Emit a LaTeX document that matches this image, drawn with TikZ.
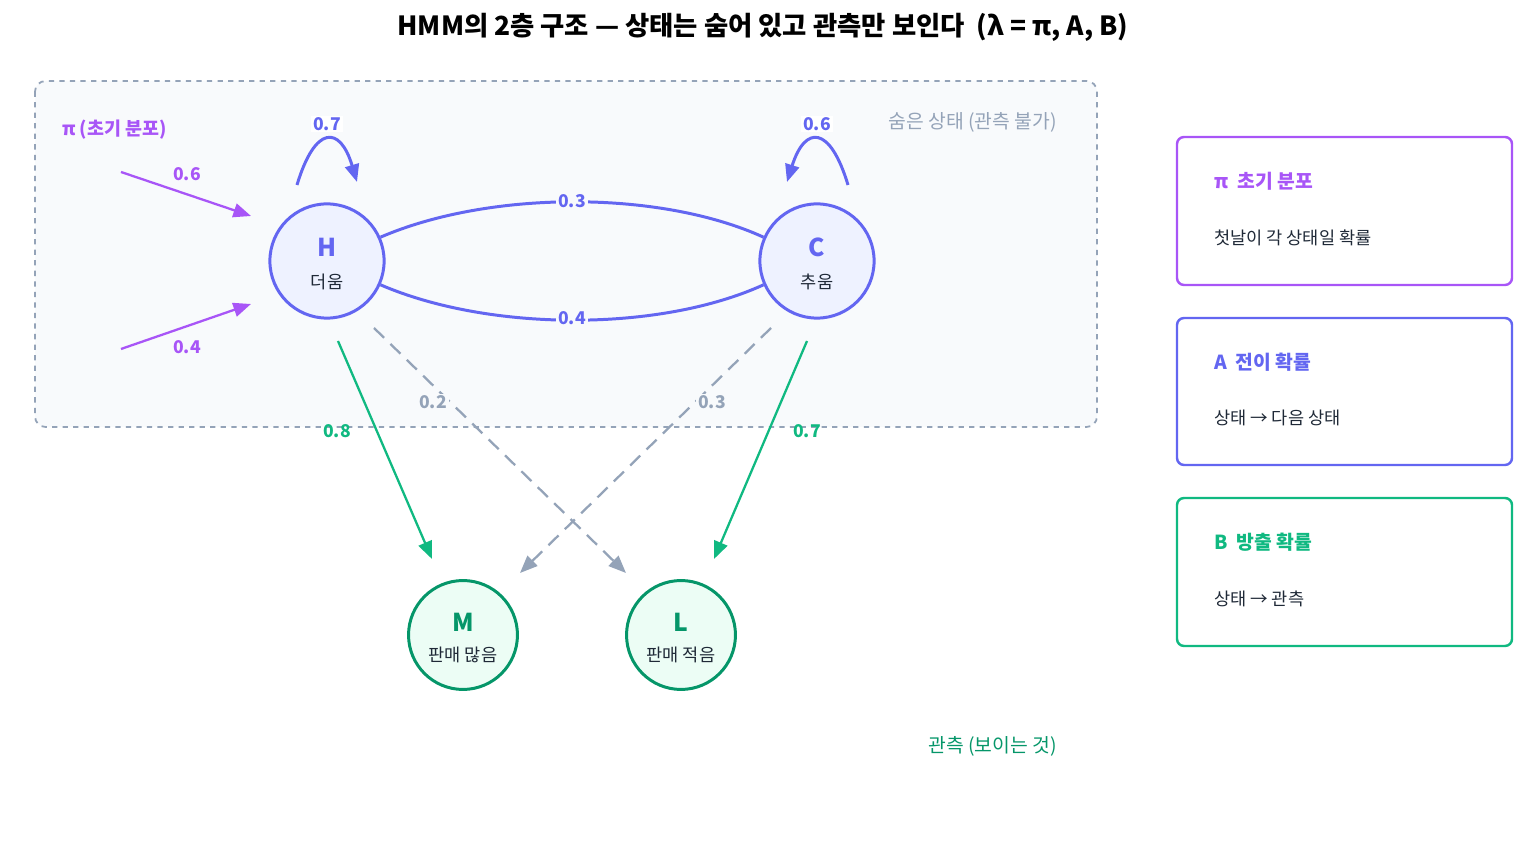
\documentclass[tikz,border=0pt]{standalone}
\usepackage{fontspec}
\setmainfont{Noto Sans CJK KR}
\usetikzlibrary{arrows.meta,positioning}
\definecolor{hidbd}{HTML}{94A3B8}
\definecolor{hidbg}{HTML}{F8FAFC}
\definecolor{indg}{HTML}{6366F1}
\definecolor{indgbg}{HTML}{EEF2FF}
\definecolor{purp}{HTML}{A855F7}
\definecolor{grn}{HTML}{10B981}
\definecolor{dgrn}{HTML}{059669}
\definecolor{grnbg}{HTML}{ECFDF5}
\definecolor{txt}{HTML}{1F2937}
\tikzset{
    state/.style={circle,draw=indg,fill=indgbg,line width=1.7pt,minimum size=65pt,inner sep=0pt},
    obs/.style={circle,draw=dgrn,fill=grnbg,line width=1.7pt,minimum size=62pt,inner sep=0pt},
    prob/.style={fill=white,inner sep=1pt,font=\fontsize{10}{12}\selectfont\bfseries},
    legend/.style={line width=1.4pt,rounded corners=4pt,fill=white},
    tip/.style={-{Stealth[length=10pt,width=8pt,inset=0pt]}}
}
\begin{document}
\begin{tikzpicture}[x=0.02cm,y=-0.02cm]
        \useasboundingbox (0,0) rectangle (1525,857);
        % Title
        \node (title) at (763,27) {\fontsize{15}{18}\selectfont\bfseries HMM의 2층 구조 — 상태는 숨어 있고 관측만 보인다 \ (λ = π, A, B)};
        % Hidden layer
        \draw[hidbd,fill=hidbg,dashed,line width=1pt,rounded corners=6pt] (35,81) rectangle (1097,427);
        \node[text=hidbd,anchor=east,font=\fontsize{11}{13}\selectfont] (hidlbl) at (1063,122) {숨은 상태 (관측 불가)};
        \node[text=purp,anchor=west,font=\fontsize{10.5}{12}\selectfont\bfseries] (pilbl) at (56,130) {π (초기 분포)};
        % States
        \node[state] (H) at (327,261) {};
        \node[text=indg,font=\fontsize{14}{16}\selectfont\bfseries] (Hl) at (327,247) {H};
        \node[text=txt,font=\fontsize{10}{11}\selectfont] (Hs) at (327,282) {더움};
        \node[state] (C) at (817,261) {};
        \node[text=indg,font=\fontsize{14}{16}\selectfont\bfseries] (Cl) at (817,247) {C};
        \node[text=txt,font=\fontsize{10}{11}\selectfont] (Cs) at (817,282) {추움};
        % Observations
        \node[obs] (M) at (463,635) {};
        \node[text=dgrn,font=\fontsize{14}{16}\selectfont\bfseries] (Ml) at (463,622) {M};
        \node[text=txt,font=\fontsize{10}{11}\selectfont] (Ms) at (463,655) {판매 많음};
        \node[obs] (L) at (681,635) {};
        \node[text=dgrn,font=\fontsize{14}{16}\selectfont\bfseries] (Ll) at (681,622) {L};
        \node[text=txt,font=\fontsize{10}{11}\selectfont] (Ls) at (681,655) {판매 적음};
        \node[text=dgrn,anchor=east,font=\fontsize{11}{13}\selectfont] (obslbl) at (1063,746) {관측 (보이는 것)};
        % Initial distribution
        \coordinate (p1) at (121,172);
        \coordinate (p2) at (121,349);
        \coordinate (q1) at (251,216);
        \coordinate (q2) at (251,304);
        \draw[purp,line width=1.3pt,tip] (p1) -- (q1);
        \draw[purp,line width=1.3pt,tip] (p2) -- (q2);
        \node[prob,text=purp,fill=hidbg] at (187,174) {0.6};
        \node[prob,text=purp,fill=hidbg] at (187,347) {0.4};
        % Self loops
        \draw[indg,line width=1.7pt,tip] (297,185) .. controls (315,125) and (340,125) .. (357,182);
        \draw[indg,line width=1.7pt,tip] (848,185) .. controls (830,125) and (805,125) .. (787,182);
        \node[prob,text=indg] at (327,124) {0.7};
        \node[prob,text=indg] at (817,124) {0.6};
        % Transitions
        \draw[indg,line width=1.7pt] (H.24) .. controls (490,190) and (660,190) .. (C.156);
        \draw[indg,line width=1.7pt] (H.-24) .. controls (490,332) and (660,332) .. (C.-156);
        \node[prob,text=indg,fill=hidbg] at (572,201) {0.3};
        \node[prob,text=indg,fill=hidbg] at (572,318) {0.4};
        % Emissions
        \coordinate (hm) at (432,559);
        \coordinate (cl) at (714,559);
        \coordinate (hl) at (626,573);
        \coordinate (cm) at (520,573);
        \draw[grn,line width=1.3pt,tip] (338,341) -- (hm);
        \draw[grn,line width=1.3pt,tip] (807,341) -- (cl);
        \draw[hidbd,line width=1.3pt,dash pattern=on 8pt off 5pt,tip] (374,328) -- (hl);
        \draw[hidbd,line width=1.3pt,dash pattern=on 8pt off 5pt,tip] (771,328) -- (cm);
        \node[prob,text=grn,fill=none] at (337,431) {0.8};
        \node[prob,text=grn,fill=none] at (807,431) {0.7};
        \node[prob,text=hidbd,fill=hidbg] at (433,402) {0.2};
        \node[prob,text=hidbd,fill=hidbg] at (712,402) {0.3};
        % Legend
        \draw[legend,draw=purp] (1177,137) rectangle (1512,285);
        \node[text=purp,anchor=west,font=\fontsize{11}{13}\selectfont\bfseries] (lg1) at (1208,181) {π \ 초기 분포};
        \node[text=txt,anchor=west,font=\fontsize{10}{11}\selectfont] (lg1t) at (1208,238) {첫날이 각 상태일 확률};
        \draw[legend,draw=indg] (1177,318) rectangle (1512,465);
        \node[text=indg,anchor=west,font=\fontsize{11}{13}\selectfont\bfseries] (lg2) at (1208,362) {A \ 전이 확률};
        \node[text=txt,anchor=west,font=\fontsize{10}{11}\selectfont] (lg2t) at (1208,418) {상태 → 다음 상태};
        \draw[legend,draw=grn] (1177,498) rectangle (1512,646);
        \node[text=grn,anchor=west,font=\fontsize{11}{13}\selectfont\bfseries] (lg3) at (1208,542) {B \ 방출 확률};
        \node[text=txt,anchor=west,font=\fontsize{10}{11}\selectfont] (lg3t) at (1208,599) {상태 → 관측};
\end{tikzpicture}
\end{document}
